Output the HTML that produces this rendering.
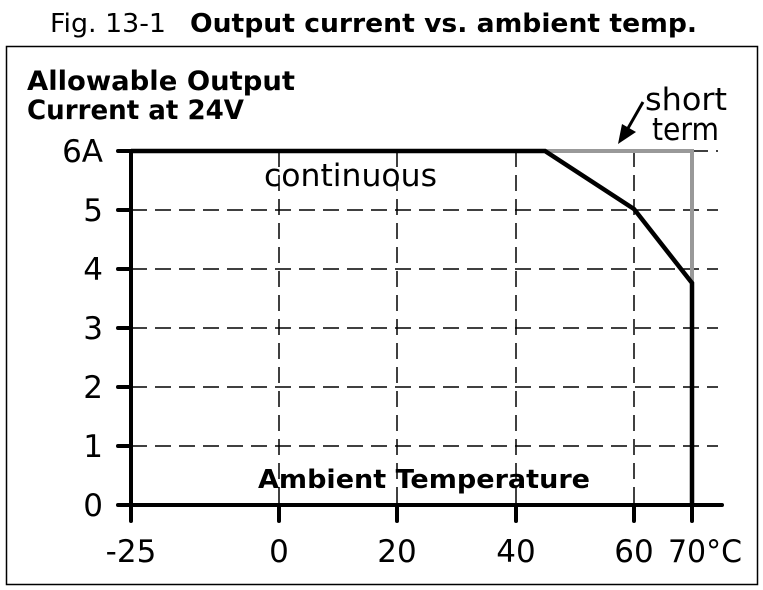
<!DOCTYPE html>
<html><head><style>body{margin:0;background:#fff}svg{display:block}</style></head><body>
<svg width="763" height="590" xmlns="http://www.w3.org/2000/svg" font-family="'DejaVu Sans','Liberation Sans',sans-serif">
<rect width="763" height="590" fill="#fff"/>
<text x="50" y="32" font-size="26" fill="#000" textLength="116" lengthAdjust="spacingAndGlyphs">Fig. 13-1</text>
<text x="190" y="32" font-size="26" font-weight="bold" fill="#000" textLength="507" lengthAdjust="spacingAndGlyphs">Output current vs. ambient temp.</text>
<rect x="6.5" y="46.5" width="751" height="538" fill="none" stroke="#000" stroke-width="1.5"/>
<text x="27" y="90" font-size="27" font-weight="bold" textLength="268" lengthAdjust="spacingAndGlyphs">Allowable Output</text>
<text x="27" y="119" font-size="27" font-weight="bold" textLength="217" lengthAdjust="spacingAndGlyphs">Current at 24V</text>
<g stroke="#000" stroke-width="1.5" stroke-dasharray="16,8" fill="none">
<line x1="131" y1="210" x2="718" y2="210"/><line x1="131" y1="269" x2="718" y2="269"/>
<line x1="131" y1="328" x2="718" y2="328"/><line x1="131" y1="387" x2="718" y2="387"/>
<line x1="131" y1="446" x2="718" y2="446"/>
<line x1="279" y1="151" x2="279" y2="505"/><line x1="397" y1="151" x2="397" y2="505"/>
<line x1="516" y1="151" x2="516" y2="505"/><line x1="634" y1="151" x2="634" y2="505"/>
<line x1="692" y1="151" x2="718" y2="151"/>
</g>
<polyline points="545,151 692,151 692,290" fill="none" stroke="#999" stroke-width="4"/>
<g stroke="#000" stroke-width="4" fill="none" stroke-linecap="round">
<line x1="131" y1="151" x2="131" y2="505"/>
<line x1="118" y1="505" x2="722" y2="505"/>
<line x1="118" y1="151" x2="131" y2="151"/><line x1="118" y1="210" x2="131" y2="210"/>
<line x1="118" y1="269" x2="131" y2="269"/><line x1="118" y1="328" x2="131" y2="328"/>
<line x1="118" y1="387" x2="131" y2="387"/><line x1="118" y1="446" x2="131" y2="446"/>
<line x1="131" y1="505" x2="131" y2="521"/><line x1="279" y1="505" x2="279" y2="521"/>
<line x1="397" y1="505" x2="397" y2="521"/><line x1="516" y1="505" x2="516" y2="521"/>
<line x1="634" y1="505" x2="634" y2="521"/><line x1="692" y1="505" x2="692" y2="521"/>
</g>
<polyline points="131,151 545,151 634,209 692,283 692,505" fill="none" stroke="#000" stroke-width="4.5" stroke-linejoin="miter"/>
<line x1="643" y1="102" x2="627" y2="130" stroke="#000" stroke-width="3"/>
<polygon points="618,144 622,124 636,132" fill="#000"/>
<g font-size="31" fill="#000">
<text x="645" y="110" textLength="82" lengthAdjust="spacingAndGlyphs">short</text><text x="652" y="140" textLength="67" lengthAdjust="spacingAndGlyphs">term</text>
<text x="264" y="186" textLength="173" lengthAdjust="spacingAndGlyphs">continuous</text>
<g text-anchor="end"><text x="103" y="162">6A</text><text x="103" y="221">5</text><text x="103" y="280">4</text>
<text x="103" y="339">3</text><text x="103" y="398">2</text><text x="103" y="457">1</text><text x="103" y="516">0</text></g>
<g text-anchor="middle"><text x="131" y="562">-25</text><text x="279" y="562">0</text><text x="397" y="562">20</text>
<text x="516" y="562">40</text><text x="634" y="562">60</text></g>
<text x="668" y="562" textLength="74" lengthAdjust="spacingAndGlyphs">70°C</text>
</g>
<text x="258" y="488" font-size="26" font-weight="bold" textLength="332" lengthAdjust="spacingAndGlyphs">Ambient Temperature</text>
</svg>
</body></html>
